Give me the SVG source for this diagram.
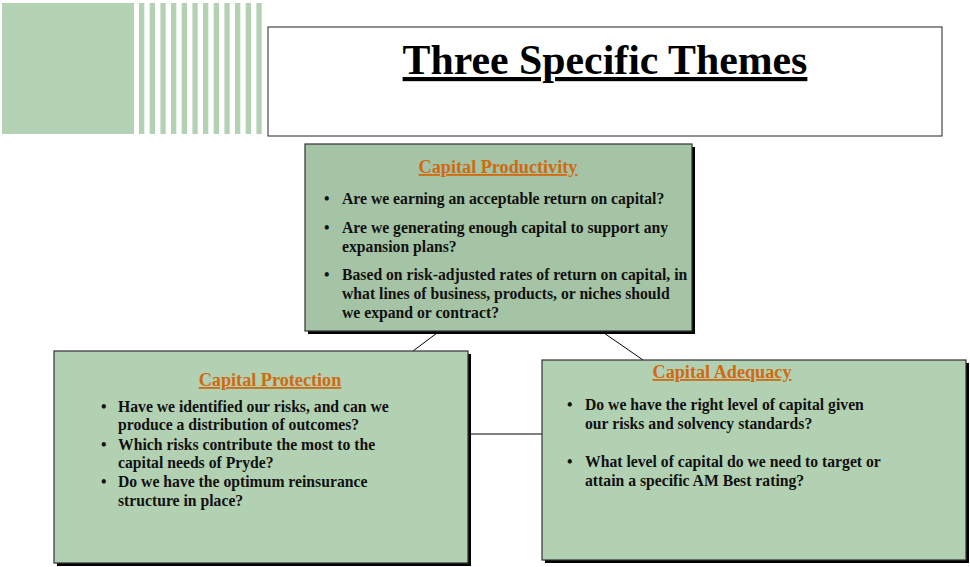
<svg xmlns="http://www.w3.org/2000/svg" width="970" height="567" viewBox="0 0 970 567">
<style>
.bx{stroke:#333;stroke-width:1.2}
.sh{fill:#000}
.hd{font-family:"Liberation Serif","Times New Roman",serif;font-weight:bold;font-size:18.2px;fill:#d06a10;text-decoration:underline;text-anchor:middle}
.tx{font-family:"Liberation Serif","Times New Roman",serif;font-weight:bold;font-size:15.7px;fill:#111}
.cn{stroke:#000;stroke-width:1;fill:none}
.st{fill:#b3d1b3}
</style>
<rect width="970" height="567" fill="#fff"/>
<g id="decor">
<rect x="2" y="3" width="132" height="131" class="st"/>
<g class="st">
<rect x="139" y="3" width="5.3" height="131"/>
<rect x="149.7" y="3" width="5.3" height="131"/>
<rect x="160.4" y="3" width="5.3" height="131"/>
<rect x="171" y="3" width="5.3" height="131"/>
<rect x="181.7" y="3" width="5.3" height="131"/>
<rect x="192.4" y="3" width="5.3" height="131"/>
<rect x="203" y="3" width="5.3" height="131"/>
<rect x="213.7" y="3" width="5.3" height="131"/>
<rect x="224.4" y="3" width="5.3" height="131"/>
<rect x="235" y="3" width="5.3" height="131"/>
<rect x="245.7" y="3" width="5.3" height="131"/>
<rect x="256.4" y="3" width="5.3" height="131"/>
</g>
</g>
<g id="title">
<rect x="268" y="27" width="674" height="109" fill="#fff" stroke="#222" stroke-width="1"/>
<text x="605" y="74" text-anchor="middle" font-family="Liberation Serif,'Times New Roman',serif" font-weight="bold" font-size="41.8" text-decoration="underline">Three Specific Themes</text>
</g>
<g id="connectors">
<line class="cn" x1="437" y1="333" x2="413" y2="351"/>
<line class="cn" x1="604" y1="333" x2="643" y2="360"/>
<line class="cn" x1="468" y1="434" x2="542" y2="434"/>
</g>
<g id="productivity">
<rect x="308" y="147" width="387" height="187" class="sh"/>
<rect x="305" y="144" width="387" height="187" fill="#a5c3a5" class="bx"/>
<text x="498" y="173" class="hd">Capital Productivity</text>
<g class="tx">
<text x="324" y="204">•</text>
<text x="342" y="204">Are we earning an acceptable return on capital?</text>
<text x="324" y="233">•</text>
<text x="342" y="233">Are we generating enough capital to support any</text>
<text x="342" y="252">expansion plans?</text>
<text x="324" y="280">•</text>
<text x="342" y="280">Based on risk-adjusted rates of return on capital, in</text>
<text x="342" y="299">what lines of business, products, or niches should</text>
<text x="342" y="318">we expand or contract?</text>
</g>
</g>
<g id="protection">
<rect x="57" y="354" width="414" height="212" class="sh"/>
<rect x="54" y="351" width="414" height="212" fill="#b2d0b2" class="bx"/>
<text x="270" y="386" class="hd">Capital Protection</text>
<g class="tx">
<text x="101" y="412">•</text>
<text x="118" y="412">Have we identified our risks, and can we</text>
<text x="118" y="430">produce a distribution of outcomes?</text>
<text x="101" y="450">•</text>
<text x="118" y="450">Which risks contribute the most to the</text>
<text x="118" y="468">capital needs of Pryde?</text>
<text x="101" y="487">•</text>
<text x="118" y="487">Do we have the optimum reinsurance</text>
<text x="118" y="506">structure in place?</text>
</g>
</g>
<g id="adequacy">
<rect x="545" y="363" width="424" height="200" class="sh"/>
<rect x="542" y="360" width="424" height="200" fill="#b2d0b2" class="bx"/>
<text x="722" y="378" class="hd">Capital Adequacy</text>
<g class="tx">
<text x="567" y="410">•</text>
<text x="585" y="410">Do we have the right level of capital given</text>
<text x="585" y="429">our risks and solvency standards?</text>
<text x="567" y="467">•</text>
<text x="585" y="467">What level of capital do we need to target or</text>
<text x="585" y="486">attain a specific AM Best rating?</text>
</g>
</g>
</svg>
